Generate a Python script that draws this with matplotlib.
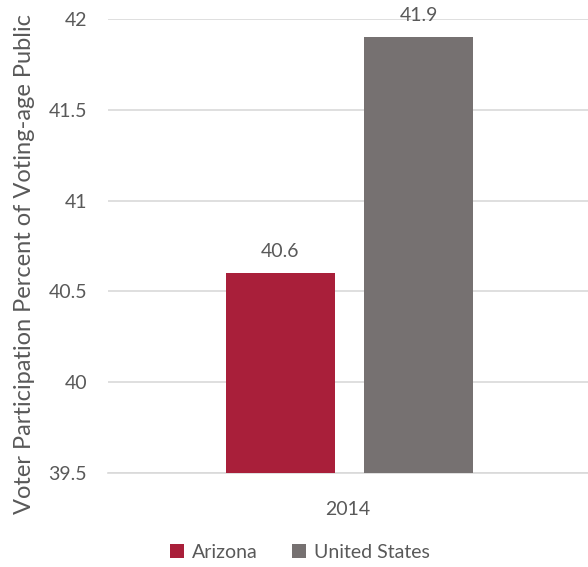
import matplotlib
matplotlib.use("Agg")
import matplotlib.pyplot as plt

categories = ["2014"]
series_names = ["Arizona", "United States"]
values = [40.6, 41.9]
colors = ["#A91F3A", "#767171"]
yticks = [39.5, 40, 40.5, 41, 41.5, 42]
ytick_labels = ["39.5", "40", "40.5", "41", "41.5", "42"]

plt.rcParams['font.family'] = ['Lato', 'DejaVu Sans']
txt = "#595959"

fig = plt.figure(figsize=(5.88, 5.67), dpi=100)
ax = fig.add_axes([0.1837, 0.1658, 0.8163, 0.8007])

offsets = [-0.141, 0.147]
width = 0.227
for name, v, c, off in zip(series_names, values, colors, offsets):
    ax.bar(0 + off, v - 39.5, bottom=39.5, width=width, color=c, label=name, zorder=3)
    ax.text(0 + off, v + 0.075, f"{v:.1f}", ha="center", va="bottom", fontsize=14, color=txt)

ax.set_xlim(-0.5, 0.5)
ax.set_ylim(39.5, 42)
ax.set_yticks(yticks)
ax.set_yticklabels(ytick_labels)
ax.set_xticks([0])
ax.set_xticklabels(categories)
ax.tick_params(axis="both", length=0, labelsize=14, colors=txt)
ax.tick_params(axis="y", pad=15)
ax.tick_params(axis="x", pad=20)
ax.yaxis.grid(True, color="#D9D9D9", linewidth=1.2, zorder=0)
for s in ["top", "right", "left"]:
    ax.spines[s].set_visible(False)
ax.spines["bottom"].set_color("#D9D9D9")
ax.spines["bottom"].set_linewidth(1.2)
ax.set_ylabel("Voter Participation Percent of Voting-age Public", fontsize=17, color=txt, labelpad=6)
ax.yaxis.set_label_coords(-0.152, 0.46)

fig.legend(loc="lower center", bbox_to_anchor=(0.51, -0.02), ncol=2, frameon=False,
           fontsize=14, labelcolor=txt, handlelength=0.7, handleheight=0.7,
           handletextpad=0.4, columnspacing=1.8)

fig.savefig("out.png", dpi=100)
